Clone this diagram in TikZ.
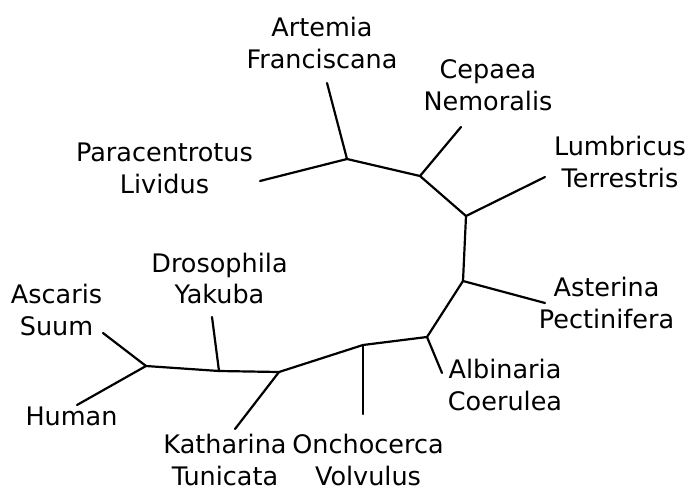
\documentclass[tikz,border=0pt]{standalone}
\usepackage{fontspec}
\setmainfont{DejaVu Sans}
\begin{document}
\begin{tikzpicture}[x=1pt,y=-1pt,
  branch/.style={line width=2.2pt,line cap=round,line join=round},
  taxon/.style={align=center,inner sep=0pt,anchor=base,font=\fontsize{25.5}{31.5}\selectfont}]
\useasboundingbox (0,0) rectangle (692,487);
% internal vertices
\coordinate (A) at (146,366);
\coordinate (B) at (219,371);
\coordinate (C) at (279,372);
\coordinate (D) at (363,345);
\coordinate (E) at (427,337);
\coordinate (F) at (463,281);
\coordinate (G) at (466,216);
\coordinate (H) at (420,176);
\coordinate (I) at (347,159);
% leaf ends
\coordinate (asc) at (103,333);
\coordinate (hum) at (77,405);
\coordinate (dro) at (212,317);
\coordinate (kat) at (235,429);
\coordinate (onc) at (363,414);
\coordinate (alb) at (442,373);
\coordinate (ast) at (545,303);
\coordinate (lum) at (545,177);
\coordinate (cep) at (461,127);
\coordinate (art) at (327,83);
\coordinate (par) at (260,181);
% branches
\draw[branch] (A) -- (B) -- (C) -- (D) -- (E) -- (F) -- (G) -- (H) -- (I);
\draw[branch] (A) -- (asc);
\draw[branch] (A) -- (hum);
\draw[branch] (B) -- (dro);
\draw[branch] (C) -- (kat);
\draw[branch] (D) -- (onc);
\draw[branch] (E) -- (alb);
\draw[branch] (F) -- (ast);
\draw[branch] (G) -- (lum);
\draw[branch] (H) -- (cep);
\draw[branch] (I) -- (art);
\draw[branch] (I) -- (par);
% labels (base anchor = baseline of the last line)
\node[taxon] (Lart) at (322,68) {Artemia\\Franciscana};
\node[taxon] (Lcep) at (488,110) {Cepaea\\Nemoralis};
\node[taxon] (Lpar) at (164.5,193) {Paracentrotus\\Lividus};
\node[taxon] (Llum) at (620,187) {Lumbricus\\Terrestris};
\node[taxon] (Ldro) at (219.5,303.5) {Drosophila\\Yakuba};
\node[taxon] (Lasc) at (56.5,335) {Ascaris\\Suum};
\node[taxon] (Last) at (606.5,328) {Asterina\\Pectinifera};
\node[taxon] (Lalb) at (505,410) {Albinaria\\Coerulea};
\node[taxon] (Lhum) at (71.5,425) {Human};
\node[taxon] (Lkat) at (225,485) {Katharina\\Tunicata};
\node[taxon] (Lonc) at (368,485) {Onchocerca\\Volvulus};
\end{tikzpicture}
\end{document}
